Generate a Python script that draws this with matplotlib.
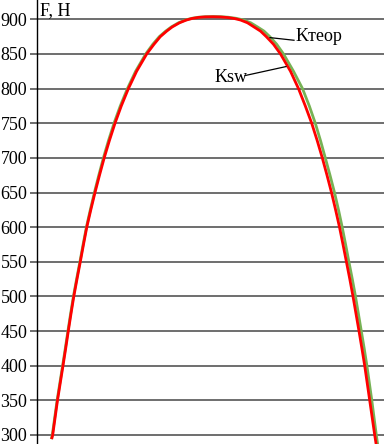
import matplotlib
matplotlib.use('Agg')
import matplotlib.pyplot as plt

# values (x in arbitrary units, F in N)
x_sw = [52.0, 52.7, 57.5, 63, 65.7, 68.3, 71, 73.8, 77, 80.3, 83.5, 86.8, 90.8, 95,
        99.5, 104.2, 109.4, 115, 121.3, 128.4, 136.6, 146.7, 154, 160.3, 166.7, 172.2,
        179.5, 186.4, 192.3, 198.7, 205, 213,
        220.5, 227.5, 234.5, 240.5, 247.5, 254, 260.5, 266.3, 273.5, 280.5, 290.5,
        298.5, 305.3, 311.7, 317.2, 322.3, 327, 331.5, 335.6, 339.5, 343, 346.4,
        349.8, 353, 356, 359, 361.9, 364.7, 369.7, 374.7, 376.1]
f_sw = [296, 300, 350, 400, 425, 450, 475, 500, 525, 550, 575, 600, 625, 650,
        675, 700, 725, 750, 775, 800, 825, 850, 864, 875, 883, 889,
        895, 899, 901.3, 902.8, 903.5, 903.7,
        903.4, 902.6, 901.1, 899, 895, 889, 883, 875, 864, 850, 825,
        800, 775, 750, 725, 700, 675, 650, 625, 600, 575, 550,
        525, 500, 475, 450, 425, 400, 350, 300, 287]

x_teor = [51.6, 52.3, 57.1, 62.6, 65.3, 67.9, 70.6, 73.4, 76.6, 79.9, 83.1, 86.4, 90.3, 94.4,
          98.8, 103.4, 108.5, 114, 120.3, 127.4, 135.6, 145.7, 152.8, 159.3, 165.7, 171.3,
          178.5, 185.4, 191.5, 198.3, 205.5, 213.5,
          221, 228.5, 236.5, 243.5, 250.7, 257.5, 264, 269.8, 276.7, 283.5, 293.5,
          302.5, 309.3, 315.3, 320.5, 325.3, 330, 334.5, 338.5, 342.2, 345.6, 348.9,
          352.3, 355.5, 358.4, 361.3, 364.2, 366.9, 371.8, 376.3, 377.6]
f_teor = [296, 300, 350, 400, 425, 450, 475, 500, 525, 550, 575, 600, 625, 650,
          675, 700, 725, 750, 775, 800, 825, 850, 864, 875, 883, 889,
          895, 899, 901.4, 903, 903.8, 904,
          903.8, 903, 901.4, 899, 895, 889, 883, 875, 864, 850, 825,
          800, 775, 750, 725, 700, 675, 650, 625, 600, 575, 550,
          525, 500, 475, 450, 425, 400, 350, 300, 287]

yticks = list(range(300, 901, 50))

serif = ['Liberation Serif', 'DejaVu Serif']

fig = plt.figure(figsize=(3.84, 4.44), dpi=100)
ax = fig.add_axes([37 / 384, 0, 347 / 384, 1])

ax.plot(x_teor, f_teor, color='#77b255', lw=2, zorder=3, solid_joinstyle='round')
ax.plot(x_sw, f_sw, color='#ff0000', lw=2, zorder=4, solid_joinstyle='round')

ax.set_xlim(37, 384)
ax.set_ylim(287, 927.9)
ax.set_xticks([])
ax.set_yticks(yticks)
ax.set_yticklabels([str(v) for v in yticks], family=serif, fontsize=13)
ax.tick_params(axis='y', length=5, width=1.2, color='#555555', pad=2)
ax.yaxis.grid(True, color='#555555', lw=1.2)
ax.set_axisbelow(True)

for s in ['top', 'right', 'bottom']:
    ax.spines[s].set_visible(False)
ax.spines['left'].set_color('black')
ax.spines['left'].set_linewidth(1)

fig.text(40 / 384, 1 - 2 / 444, 'F, Н', family=serif, fontsize=13, va='top', ha='left')

# labels with leader lines
ax.plot([270, 294], [873.6, 869.8], color='black', lw=0.9, zorder=5)
ax.text(296, 869.1, 'Kтеор', family=serif, fontsize=13, va='baseline', ha='left')
ax.plot([286, 245], [831.8, 818.8], color='black', lw=0.9, zorder=5)
ax.text(215, 810, 'Ksw', family=serif, fontsize=13, va='baseline', ha='left')

fig.savefig('out.png', dpi=100)
